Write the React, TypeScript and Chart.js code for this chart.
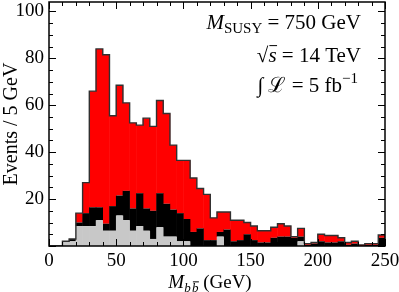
import React, { useEffect, useRef } from 'react';
import { Chart, registerables } from 'chart.js';

Chart.register(...registerables);

// Lower edges of the 5 GeV bins of M_bb (GeV)
const binStarts = [
  0, 5, 10, 15, 20, 25, 30, 35, 40, 45,
  50, 55, 60, 65, 70, 75, 80, 85, 90, 95,
  100, 105, 110, 115, 120, 125, 130, 135, 140, 145,
  150, 155, 160, 165, 170, 175, 180, 185, 190, 195,
  200, 205, 210, 215, 220, 225, 230, 235, 240, 245,
];
const BIN_WIDTH = 5;

// Light-gray component (bottom of the stack)
const grayCounts = [
  0, 0, 2, 2, 8.5, 8.5, 8.5, 11, 6.5, 6.5,
  13, 11, 6.5, 8.5, 6.5, 3, 8, 4, 4, 2,
  2, 0, 0, 0, 0, 4, 0, 0, 0, 0,
  0, 0, 0, 0, 0, 0, 0, 2, 0, 0,
  0, 0, 0, 0, 0, 0, 0, 0, 0, 0,
];
// Black component (middle of the stack)
const blackCounts = [
  0, 0, 0, 1, 1.5, 5.5, 8, 5.5, 3, 10.5,
  8.5, 12.5, 9.5, 14, 9.5, 12, 14.5, 14, 11.5, 12,
  9.5, 6, 7.5, 2.5, 2.5, 2, 7, 2, 2.5, 5,
  2.5, 1.5, 1.5, 3.5, 4, 4, 3.5, 2, 0.5, 1,
  2, 1.5, 1.5, 2, 0.5, 1, 0, 0.5, 0.5, 3.5,
];
// Red component (top of the stack)
const redCounts = [
  0, 0, 0, 0, 4, 13, 49.5, 67.5, 72, 38.5,
  47, 37.5, 36.5, 29, 38.5, 36, 39.5, 38.5, 27.5, 22.5,
  25, 23, 17, 19.5, 9.5, 8.5, 7.5, 9, 8.5, 5,
  6, 5, 5, 4.5, 5.5, 4.5, 0.5, 3.5, 0.5, 0.5,
  3, 3, 3, 1.5, 1, 1, 0.5, 0.5, 0.5, 1.2,
];

const xTickValues = [0, 50, 100, 150, 200, 250];
const yTickValues = [20, 40, 60, 80, 100];

const SERIF = "'Liberation Serif', 'DejaVu Serif', serif";

type Run = { t: string; f: string; dy?: number; over?: boolean };

function runsWidth(ctx: CanvasRenderingContext2D, runs: Run[]) {
  let w = 0;
  for (const r of runs) {
    ctx.font = r.f;
    w += ctx.measureText(r.t).width;
  }
  return w;
}

function drawRuns(ctx: CanvasRenderingContext2D, runs: Run[], x0: number, base: number) {
  let x = x0;
  ctx.textAlign = 'left';
  ctx.textBaseline = 'alphabetic';
  for (const r of runs) {
    ctx.font = r.f;
    const w = ctx.measureText(r.t).width;
    const y = base + (r.dy || 0);
    ctx.fillText(r.t, x, y);
    if (r.over) {
      const size = parseFloat(r.f.match(/(\d+(\.\d+)?)px/)![1]);
      ctx.beginPath();
      ctx.lineWidth = 1;
      ctx.moveTo(x + 1, y - size * 0.78);
      ctx.lineTo(x + w + 0.5, y - size * 0.78);
      ctx.stroke();
    }
    x += w;
  }
  return x;
}

const decorPlugin = {
  id: 'decor',
  afterDatasetsDraw(chart: any) {
    const { ctx, chartArea: a, scales } = chart;
    const xs = scales.x;
    const ys = scales.y;
    ctx.save();
    ctx.strokeStyle = '#000';
    ctx.lineWidth = 1;
    // x ticks (major every 50, minor every 10), bottom and top, pointing inwards
    for (let v = 0; v <= 250; v += 10) {
      const px = Math.round(xs.getPixelForValue(v)) + 0.5;
      const len = v % 50 === 0 ? 7 : 4;
      ctx.beginPath();
      ctx.moveTo(px, a.bottom);
      ctx.lineTo(px, a.bottom - len);
      ctx.moveTo(px, a.top);
      ctx.lineTo(px, a.top + len);
      ctx.stroke();
    }
    // y ticks (major every 20, minor every 5), left and right
    for (let v = 0; v <= 104; v += 5) {
      const py = Math.round(ys.getPixelForValue(v)) + 0.5;
      const len = v % 20 === 0 ? 7 : 4;
      ctx.beginPath();
      ctx.moveTo(a.left, py);
      ctx.lineTo(a.left + len, py);
      ctx.moveTo(a.right, py);
      ctx.lineTo(a.right - len, py);
      ctx.stroke();
    }
    // frame
    ctx.lineWidth = 1.5;
    ctx.strokeRect(a.left, a.top, a.right - a.left, a.bottom - a.top);
    ctx.restore();
  },
  afterDraw(chart: any) {
    const { ctx, chartArea: a } = chart;
    ctx.save();
    ctx.fillStyle = '#000';
    ctx.strokeStyle = '#000';
    const big = `21px ${SERIF}`;
    const bigI = `italic 21px ${SERIF}`;
    const small = `15px ${SERIF}`;
    const line1: Run[] = [
      { t: 'M', f: bigI },
      { t: 'SUSY', f: small, dy: 4 },
      { t: ' = 750 GeV', f: big },
    ];
    const line2: Run[] = [
      { t: '√', f: big },
      { t: 's', f: bigI, over: true },
      { t: ' = 14 TeV', f: big },
    ];
    const line3: Run[] = [
      { t: '∫', f: big },
      { t: ' ℒ', f: big },
      { t: ' = 5 fb', f: big },
      { t: '−1', f: small, dy: -9 },
    ];
    const right = a.right - 24;
    drawRuns(ctx, line1, right - runsWidth(ctx, line1), 29);
    drawRuns(ctx, line2, right - runsWidth(ctx, line2), 62);
    drawRuns(ctx, line3, right - 3 - runsWidth(ctx, line3), 92);

    // x-axis title with subscript
    const title: Run[] = [
      { t: 'M', f: `italic 19px ${SERIF}` },
      { t: 'b', f: `italic 13px ${SERIF}`, dy: 4 },
      { t: ' ', f: `5px ${SERIF}` },
      { t: 'b', f: `italic 13px ${SERIF}`, dy: 4, over: true },
      { t: ' (GeV)', f: `19px ${SERIF}` },
    ];
    const cx = (a.left + a.right) / 2 - 7;
    drawRuns(ctx, title, cx - runsWidth(ctx, title) / 2, 288);
    ctx.restore();
  },
};

export default function App() {
  const ref = useRef<HTMLCanvasElement | null>(null);

  useEffect(() => {
    if (!ref.current) return;
    const centers = binStarts.map((b) => b + BIN_WIDTH / 2);
    const mk = (arr: number[]) => centers.map((c, i) => ({ x: c, y: arr[i] }));
    const totals = binStarts.map((_, i) => grayCounts[i] + blackCounts[i] + redCounts[i]);
    const outline = binStarts.map((b, i) => ({ x: b, y: totals[i] }));
    outline.push({ x: binStarts[binStarts.length - 1] + BIN_WIDTH, y: totals[totals.length - 1] });

    const barCommon = {
      type: 'bar' as const,
      barPercentage: 1.08,
      categoryPercentage: 1,
      borderWidth: 0,
      stack: 'hist',
    };

    const chart = new Chart(ref.current, {
      type: 'bar',
      data: {
        datasets: [
          {
            type: 'line',
            data: outline,
            borderColor: '#303030',
            borderWidth: 1.4,
            pointRadius: 0,
            fill: false,
            stepped: true,
            order: 0,
            stack: 'outline',
          } as any,
          { ...barCommon, data: mk(grayCounts), backgroundColor: '#c8c8c8', order: 1 } as any,
          { ...barCommon, data: mk(blackCounts), backgroundColor: '#000000', order: 2 } as any,
          { ...barCommon, data: mk(redCounts), backgroundColor: '#ff0000', order: 3 } as any,
        ],
      },
      options: {
        animation: false,
        responsive: false,
        devicePixelRatio: 1,
        layout: { padding: { left: 0, right: 14, top: 2, bottom: 0 } },
        plugins: { legend: { display: false }, tooltip: { enabled: false } },
        scales: {
          x: {
            type: 'linear',
            min: 0,
            max: 250,
            stacked: true,
            offset: false,
            grid: { display: false, drawTicks: false },
            border: { display: false },
            afterBuildTicks: (s: any) => {
              s.ticks = xTickValues.map((v) => ({ value: v }));
            },
            afterFit: (s: any) => {
              s.height = 46;
              s.paddingLeft = 0;
              s.paddingRight = 0;
            },
            ticks: {
              maxRotation: 0,
              autoSkip: false,
              padding: 4,
              color: '#000',
              font: { family: SERIF, size: 19 },
            },
          },
          y: {
            type: 'linear',
            min: 0,
            max: 104,
            stacked: true,
            grid: { display: false, drawTicks: false },
            border: { display: false },
            afterBuildTicks: (s: any) => {
              s.ticks = yTickValues.map((v) => ({ value: v }));
            },
            afterFit: (s: any) => {
              s.width = 49;
              s.paddingTop = 0;
              s.paddingBottom = 0;
            },
            ticks: {
              padding: 5,
              color: '#000',
              font: { family: SERIF, size: 19 },
            },
            title: {
              display: true,
              text: 'Events / 5 GeV',
              color: '#000',
              padding: 0,
              font: { family: SERIF, size: 20 },
            },
          },
        },
      },
      plugins: [decorPlugin],
    } as any);
    return () => chart.destroy();
  }, []);

  return (
    <div style={{ position: 'absolute', left: 0, top: 0, width: 399, height: 292, background: '#fff' }}>
      <canvas ref={ref} width={399} height={292} style={{ display: 'block' }} />
    </div>
  );
}
